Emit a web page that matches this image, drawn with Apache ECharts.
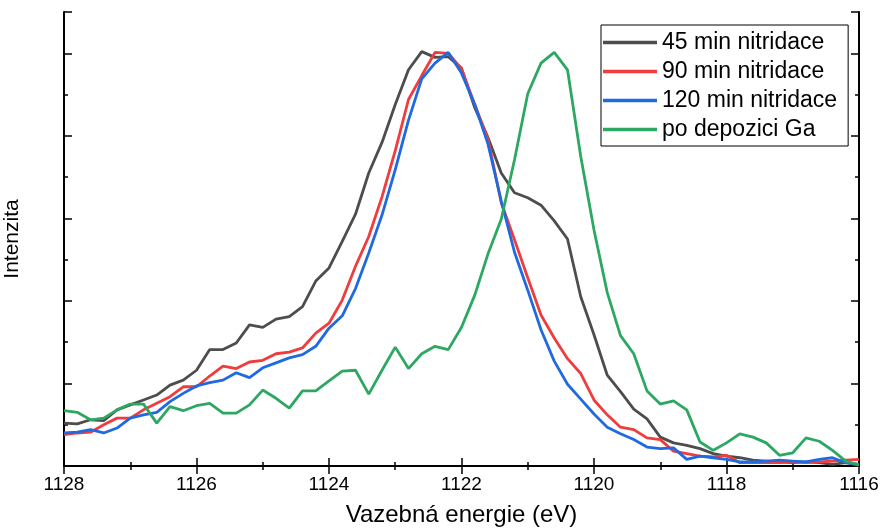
<!DOCTYPE html>
<html>
<head>
<meta charset="utf-8">
<script src="https://cdn.jsdelivr.net/npm/echarts@6/dist/echarts.min.js"></script>
<style>html,body{margin:0;padding:0;background:#fff}#c{width:882px;height:531px}</style>
</head>
<body>
<div id="c"></div>
<script>
const energy = [1128.0,1127.8,1127.6,1127.4,1127.2,1127.0,1126.8,1126.6,1126.4,1126.2,1126.0,1125.8,1125.6,1125.4,1125.2,1125.0,1124.8,1124.6,1124.4,1124.2,1124.0,1123.8,1123.6,1123.4,1123.2,1123.0,1122.8,1122.6,1122.4,1122.2,1122.0,1121.8,1121.6,1121.4,1121.2,1121.0,1120.8,1120.6,1120.4,1120.2,1120.0,1119.8,1119.6,1119.4,1119.2,1119.0,1118.8,1118.6,1118.4,1118.2,1118.0,1117.8,1117.6,1117.4,1117.2,1117.0,1116.8,1116.6,1116.4,1116.2,1116.0];
const n45 = [0.52,0.51,0.56,0.55,0.68,0.74,0.80,0.86,0.98,1.04,1.16,1.41,1.41,1.49,1.71,1.68,1.78,1.81,1.93,2.24,2.40,2.72,3.05,3.55,3.92,4.38,4.80,5.02,4.95,4.96,4.82,4.34,3.98,3.55,3.31,3.25,3.16,2.97,2.75,2.05,1.59,1.10,0.90,0.69,0.57,0.35,0.28,0.25,0.21,0.15,0.12,0.10,0.07,0.06,0.05,0.04,0.05,0.04,0.02,0.04,0.01];
const n90 = [0.38,0.40,0.41,0.50,0.58,0.58,0.68,0.76,0.84,0.96,0.96,1.09,1.21,1.18,1.26,1.28,1.36,1.38,1.43,1.61,1.73,2.01,2.42,2.78,3.26,3.82,4.44,4.73,5.01,5.00,4.81,4.38,3.96,3.19,2.74,2.28,1.83,1.55,1.30,1.12,0.80,0.62,0.47,0.44,0.34,0.32,0.18,0.15,0.12,0.11,0.13,0.04,0.04,0.04,0.04,0.05,0.04,0.05,0.06,0.07,0.08];
const n120 = [0.40,0.41,0.44,0.40,0.46,0.58,0.62,0.65,0.78,0.88,0.97,1.01,1.04,1.13,1.07,1.19,1.25,1.31,1.35,1.45,1.67,1.82,2.15,2.58,3.04,3.59,4.19,4.69,4.88,5.01,4.76,4.38,3.90,3.21,2.59,2.13,1.65,1.27,0.99,0.81,0.63,0.47,0.39,0.32,0.23,0.21,0.22,0.08,0.12,0.10,0.08,0.05,0.05,0.06,0.07,0.06,0.05,0.08,0.10,0.04,0.02];
const ga = [0.67,0.65,0.56,0.58,0.68,0.75,0.75,0.52,0.72,0.67,0.73,0.76,0.64,0.64,0.74,0.92,0.82,0.70,0.91,0.91,1.03,1.15,1.16,0.87,1.16,1.44,1.18,1.36,1.45,1.41,1.68,2.07,2.57,2.99,3.71,4.51,4.88,5.01,4.80,3.75,2.86,2.10,1.58,1.36,0.91,0.75,0.79,0.68,0.29,0.19,0.28,0.39,0.35,0.28,0.13,0.16,0.34,0.30,0.19,0.06,0.01];
const seriesNames = ['45 min nitridace','90 min nitridace','120 min nitridace','po depozici Ga'];
const seriesValues = [n45, n90, n120, ga];
const colors = ['#4d4d4d','#f03c3c','#1f6ae0','#2ca862'];
const xTicks = [1116,1118,1120,1122,1124,1126,1128];

const FONT = '"Liberation Sans", Arial, sans-serif';
const chart = echarts.init(document.getElementById('c'), null, {renderer:'canvas'});
const axisLine = {show:true, lineStyle:{color:'#000', width:2}};
const xBase = {
  type:'value', min:xTicks[0], max:xTicks[xTicks.length-1], interval:2, inverse:true,
  axisLine: axisLine, splitLine:{show:false},
  axisTick:{show:true, inside:true, length:8, lineStyle:{color:'#000', width:1.5}},
  minorTick:{show:true, splitNumber:2, length:4, lineStyle:{color:'#000', width:1.5}}
};
const yBase = {
  type:'value', min:0, max:5.5, interval:1,
  axisLine: axisLine, splitLine:{show:false}, axisLabel:{show:false},
  axisTick:{show:true, inside:true, length:8, lineStyle:{color:'#000', width:1.5}},
  minorTick:{show:true, splitNumber:2, length:4, lineStyle:{color:'#000', width:1.5}}
};
chart.setOption({
  animation:false,
  backgroundColor:'#fff',
  grid:{left:64, right:23, top:12, bottom:65, containLabel:false, outerBoundsMode:'none'},
  legend:{
    orient:'vertical', left:601, top:25,
    data: seriesNames,
    icon:'rect', itemWidth:54, itemHeight:3.5, itemGap:6,
    padding:[6,11,5,2],
    borderColor:'#000', borderWidth:1,
    textStyle:{fontFamily:FONT, fontSize:23, color:'#000', lineHeight:23}
  },
  xAxis:[
    Object.assign({}, xBase, {
      position:'bottom',
      name:'Vazebná energie (eV)', nameLocation:'middle', nameGap:37,
      nameTextStyle:{fontFamily:FONT, fontSize:24, color:'#000'},
      axisLabel:{show:true, fontFamily:FONT, fontSize:19, color:'#000', margin:9,
        formatter: v => String(v)}
    }),
    Object.assign({}, xBase, {position:'top', axisLabel:{show:false}})
  ],
  yAxis:[
    Object.assign({}, yBase, {
      position:'left',
      name:'Intenzita', nameLocation:'middle', nameGap:41,
      nameTextStyle:{fontFamily:FONT, fontSize:21, color:'#000'}
    }),
    Object.assign({}, yBase, {position:'right'})
  ],
  series: seriesNames.map((nm, i) => ({
    name: nm, type:'line', xAxisIndex:0, yAxisIndex:0,
    showSymbol:false, symbol:'none',
    data: energy.map((e, j) => [e, seriesValues[i][j]]),
    lineStyle:{color:colors[i], width:2.8},
    itemStyle:{color:colors[i]}
  }))
});
</script>
</body>
</html>
